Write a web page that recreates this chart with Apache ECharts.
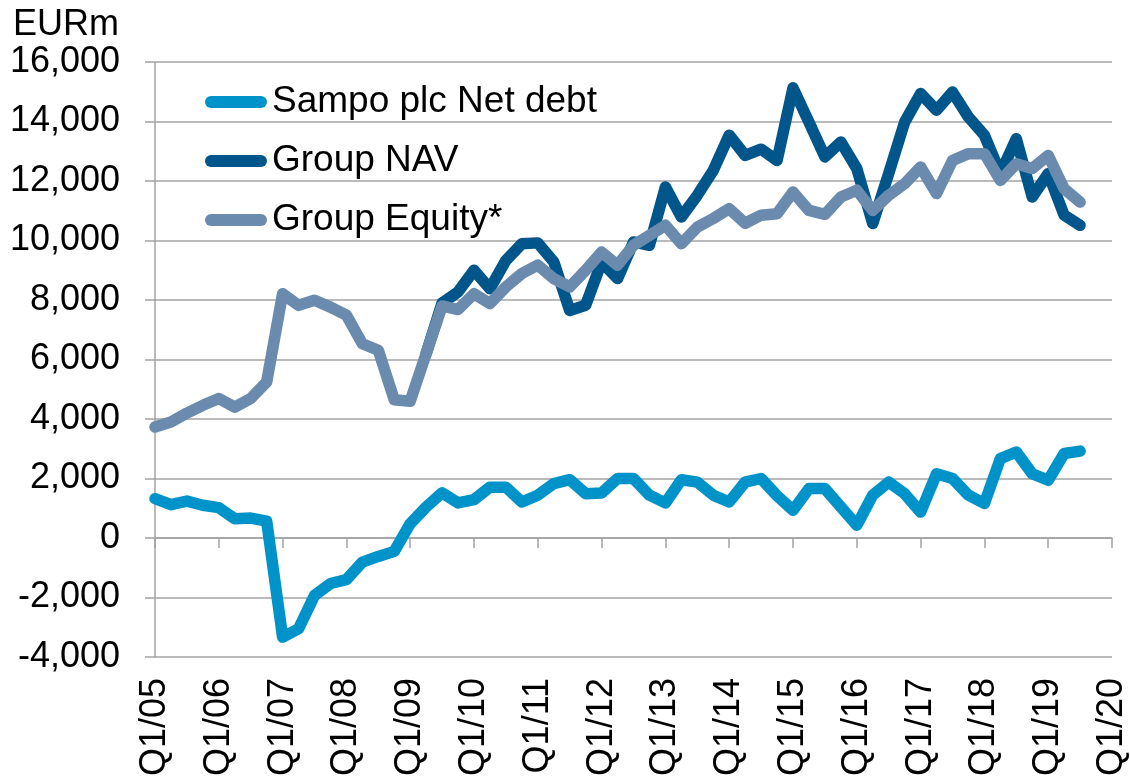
<!DOCTYPE html>
<html>
<head>
<meta charset="utf-8">
<script src="https://cdn.jsdelivr.net/npm/echarts@6/dist/echarts.min.js"></script>
<style>
html,body{margin:0;padding:0;background:#fff;}
#chart{width:1130px;height:782px;}
</style>
</head>
<body>
<div id="chart"></div>
<script>
// Quarterly categories Q1/05 .. Q1/20
const years = ['05','06','07','08','09','10','11','12','13','14','15','16','17','18','19','20'];
const categories = [];
years.forEach(function (y, i) {
  for (let q = 1; q <= 4; q++) {
    if (i === years.length - 1 && q > 1) break;
    categories.push('Q' + q + '/' + y);
  }
});

const seriesNames = ['Sampo plc Net debt', 'Group NAV', 'Group Equity*'];

const netDebt = [1320, 1120, 1240, 1100, 1020, 650, 670, 570, -3330, -3050,
  -1930, -1530, -1400, -810, -620, -450, 480, 1040, 1520, 1180,
  1290, 1710, 1710, 1210, 1440, 1830, 1960, 1490, 1510, 2000,
  2000, 1440, 1180, 1960, 1880, 1440, 1210, 1880, 2000, 1420,
  930, 1660, 1660, 1040, 430, 1440, 1880, 1490, 870, 2160,
  2000, 1440, 1160, 2670, 2890, 2160, 1940, 2840, 2920];

const groupNAV = [null, null, null, null, null, null, null, null, null, null,
  null, null, null, null, null, null, null, 6200, 7900, 8270,
  9000, 8380, 9330, 9890, 9920, 9280, 7650, 7820, 9280, 8720,
  9950, 9840, 11800, 10790, 11520, 12360, 13540, 12860, 13070, 12690,
  15130, 13980, 12810, 13310, 12420, 10570, 12250, 13980, 14940, 14380,
  14990, 14150, 13540, 12250, 13420, 11460, 12250, 10850, 10510];

const groupEquity = [3730, 3900, 4200, 4460, 4690, 4400, 4690, 5240, 8210, 7820,
  7990, 7760, 7490, 6530, 6310, 4650, 4600, 6200, 7800, 7680,
  8210, 7880, 8440, 8890, 9170, 8720, 8440, 9000, 9610, 9170,
  9840, 10170, 10510, 9890, 10450, 10740, 11070, 10580, 10850, 10900,
  11630, 11010, 10880, 11460, 11690, 11010, 11520, 11910, 12470, 11580,
  12690, 12920, 12920, 12020, 12580, 12420, 12860, 11740, 11290];

const colors = ['#0093c9', '#00568b', '#6a8bad'];
const FONT = 'Liberation Sans, Arial, sans-serif';
const GRID_COLOR = '#a3a3a3';

const chart = echarts.init(document.getElementById('chart'));

function lineSeries(name, data, color, z) {
  return {
    name: name,
    type: 'line',
    data: data,
    xAxisIndex: 0,
    yAxisIndex: 0,
    showSymbol: false,
    symbol: 'none',
    z: z,
    lineStyle: { color: color, width: 11.5, cap: 'round', join: 'round' },
    itemStyle: { color: color },
    emphasis: { disabled: true },
    connectNulls: false
  };
}

chart.setOption({
  animation: false,
  color: colors,
  grid: { left: 155, right: 17, top: 62, bottom: 125, containLabel: false },
  graphic: [{
    type: 'text',
    left: 13,
    top: 7,
    style: { text: 'EURm', font: '36px ' + FONT, fill: '#000' }
  }],
  legend: {
    data: seriesNames,
    orient: 'vertical',
    left: 205,
    top: 82,
    padding: 0,
    itemGap: 19,
    itemWidth: 62,
    itemHeight: 12,
    icon: 'path://M6,0L56,0A6,6,0,0,1,56,12L6,12A6,6,0,0,1,6,0Z',
    itemStyle: { borderWidth: 0 },
    textStyle: { fontSize: 37, fontFamily: FONT, color: '#000', lineHeight: 40, padding: [0, 0, 0, 0] },
    selectedMode: false
  },
  xAxis: [{
    type: 'category',
    data: categories,
    boundaryGap: false,
    position: 'bottom',
    axisLine: { show: false, onZero: false },
    axisTick: { show: false },
    splitLine: { show: false },
    axisLabel: {
      interval: 3,
      rotate: 90,
      margin: 21,
      fontSize: 36,
      fontFamily: FONT,
      color: '#000'
    }
  }, {
    type: 'category',
    data: categories,
    boundaryGap: false,
    position: 'top',
    axisLine: { show: true, onZero: true, lineStyle: { color: GRID_COLOR, width: 1.5 } },
    axisTick: { show: true, interval: 3, inside: true, length: 10, lineStyle: { color: GRID_COLOR, width: 1.5 } },
    axisLabel: { show: false },
    splitLine: { show: false }
  }],
  yAxis: {
    type: 'value',
    min: -4000,
    max: 16000,
    interval: 2000,
    axisLine: { show: true, lineStyle: { color: GRID_COLOR, width: 1.5 } },
    axisTick: { show: true, length: 10, lineStyle: { color: GRID_COLOR, width: 1.5 } },
    splitLine: { show: true, lineStyle: { color: GRID_COLOR, width: 1.5 } },
    axisLabel: {
      margin: 35,
      fontSize: 36,
      fontFamily: FONT,
      color: '#000',
      formatter: function (v) {
        const s = Math.abs(v).toString().replace(/\B(?=(\d{3})+(?!\d))/g, ',');
        return (v < 0 ? '-' : '') + s;
      }
    }
  },
  series: [
    lineSeries(seriesNames[0], netDebt, colors[0], 2),
    lineSeries(seriesNames[1], groupNAV, colors[1], 3),
    lineSeries(seriesNames[2], groupEquity, colors[2], 4)
  ]
});
</script>
</body>
</html>
